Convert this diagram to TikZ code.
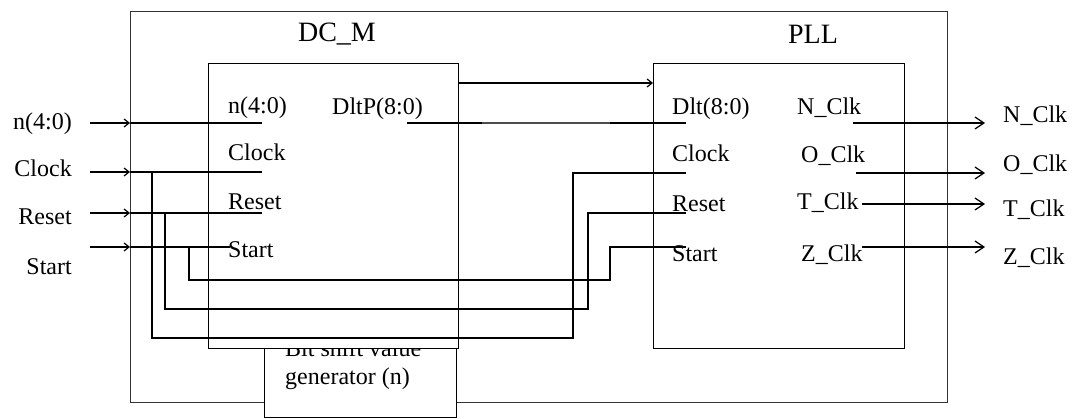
\documentclass[tikz,border=0pt]{standalone}
\usepackage{fontspec}
\setmainfont{Liberation Serif}
\usetikzlibrary{arrows.meta,positioning}

\begin{document}
\begin{tikzpicture}[x=1pt,y=-1pt,
  blk/.style={draw,line width=1.3pt,fill=white,inner sep=0pt,anchor=north west},
  wire/.style={line width=1.2pt},
  pin/.style={font=\fontsize{24}{28}\selectfont,inner sep=0pt},
  ttl/.style={font=\fontsize{28}{32}\selectfont,inner sep=0pt},
  inarr/.style={wire,-{Straight Barb[length=5pt,width=8pt]}},
  outarr/.style={wire,-{Straight Barb[length=9pt,width=12pt]}}]
\useasboundingbox (0,0) rectangle (1074,419);
% Outer frame and blocks
\node[blk,draw=black!80,minimum width=817pt,minimum height=391pt] (frame) at (130,11) {};
\node[blk,minimum width=192pt,minimum height=87pt] (bsg) at (264,330) {};
\node[pin,anchor=base west] (bsga) at (285,357) {Bit shift value};
\node[pin,anchor=base west] (bsgb) at (285,385) {generator (n)};
\node[blk,minimum width=250pt,minimum height=285pt] (dcm) at (208,63) {};
\node[blk,minimum width=251pt,minimum height=285pt] (pll) at (653,63) {};
\node[ttl] (dcmttl) at (337,34) {DC\_M};
\node[ttl] (pllttl) at (813,34) {PLL};
% Pin labels
\foreach \nm/\xx/\yy/\txt in {dn/228/114/n(4:0), dc/228/161/Clock, dr/228/210/Reset,
    ds/228/258/Start, dd/332/115/DltP(8:0),
    pd/672/115/Dlt(8:0), pc/672/162/Clock, pr/672/212/Reset, ps/672/262/Start,
    pn/797/115/N\_Clk, po/801/163/O\_Clk, pt/797/210/T\_Clk, pz/801/262/Z\_Clk}
  \node[pin,anchor=base west] (\nm) at (\xx,\yy) {\txt};
% External labels
\foreach \nm/\yy/\txt in {xn/130/n(4:0), xc/177/Clock, xr/225/Reset, xs/275/Start}
  \node[pin,anchor=base east] (\nm) at (72,\yy) {\txt};
\foreach \nm/\yy/\txt in {yn/123/N\_Clk, yo/172/O\_Clk, yt/217/T\_Clk, yz/265/Z\_Clk}
  \node[pin,anchor=base west] (\nm) at (1003,\yy) {\txt};
% Inputs into the frame
\foreach \nm/\yy in {inN/123, inC/172, inR/213, inS/247}
  \coordinate (\nm) at (90,\yy);
\foreach \nm in {inN,inC,inR,inS}
  \draw[inarr] (\nm) -- (\nm -| frame.west);
\draw[wire] (inN -| frame.west) -- ++(132,0);
\draw[wire] (inC -| frame.west) -- ++(132,0);
\draw[wire] (inR -| frame.west) -- ++(132,0);
\draw[wire] (inS -| frame.west) -- ++(100,0);
% Clock, Reset, Start looped round to the PLL
\draw[wire] (152,172) -- (152,338) -- (573,338) -- (573,173) -- (686,173);
\draw[wire] (165,213) -- (165,309) -- (588,309) -- (588,213) -- (686,213);
\draw[wire] (189,247) -- (189,280) -- (610,280) -- (610,247) -- (686,247);
% DltP to Dlt
\draw[wire] (407,123) -- (686,123);
\draw[line width=2.2pt,black!70] (482,123) -- (610,123);
\draw[inarr] (dcm.east |- 0,83) -- (pll.west |- 0,83);
% Clock outputs
\foreach \yy/\xx in {123/853, 173/856, 204/862, 247/862}
  \draw[outarr] (\xx,\yy) -- (985,\yy);
\end{tikzpicture}
\end{document}
